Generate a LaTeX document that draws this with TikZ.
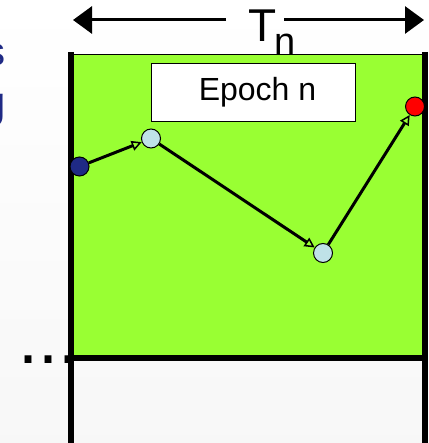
\documentclass[tikz,border=0pt]{standalone}
\usepackage{fontspec}
\setmainfont{Liberation Sans}
\usepackage{tikz}
\usetikzlibrary{arrows.meta}

\definecolor{epochgreen}{HTML}{99FF33}
\definecolor{navyblue}{HTML}{1F2A85}
\definecolor{paleblue}{HTML}{BFE2E8}

\tikzset{
  dotnode/.style={circle, draw=black, line width=1pt, minimum size=19pt, inner sep=0pt},
  move/.style={line width=3pt, -{Triangle[open, length=10pt, width=10pt, line width=1.5pt]}},
  span/.style={line width=3pt, -{Triangle[length=19pt, width=27pt]}},
}

\begin{document}
\begin{tikzpicture}[x=1pt, y=-1pt, line width=1pt]
    \useasboundingbox (0,0) rectangle (428,443);
    \shade[top color=white, bottom color=black!3] (0,0) rectangle (428,443);

    % words cut off at the left edge
    \node[navyblue, anchor=base east, inner sep=0pt, font=\fontsize{40}{40}\selectfont] (cuts) at (6,66) {s};
    \node[navyblue, anchor=base east, inner sep=0pt, font=\fontsize{44}{44}\selectfont] (cutg) at (6,118) {g};

    % the epoch
    \fill[epochgreen] (70,55) rectangle (425,358);
    \draw (70,55) -- (425,55);
    \draw[line width=6pt] (70.5,52) -- (70.5,443);
    \draw[line width=6pt] (425,52) -- (425,443);
    \draw[line width=6pt] (67.5,358) -- (428,358);

    \node[anchor=base west, inner sep=0pt, font=\fontsize{72}{72}\selectfont] (dots) at (18,363) {...};

    % length of the epoch
    \node[anchor=base west, inner sep=0pt, font=\fontsize{46}{46}\selectfont] (T) at (248,42) {T};
    \node[anchor=base west, inner sep=0pt, font=\fontsize{38}{38}\selectfont] (n) at (274,55) {n};
    \coordinate (left) at (73,20);
    \coordinate (right) at (424,20);
    \coordinate (gapl) at (226,20);
    \coordinate (gapr) at (284,20);
    \draw[span] (gapl) -- (left);
    \draw[span] (gapr) -- (right);

    \node[draw, fill=white, anchor=north west, minimum width=204pt, minimum height=58pt,
          font=\fontsize{32}{32}\selectfont] (epoch) at (151,63) {\hspace*{8pt}Epoch n};

    % walk through the epoch
    \node[dotnode, fill=navyblue] (start) at (79.5,166.5) {};
    \node[dotnode, fill=paleblue] (mid) at (151,138.5) {};
    \node[dotnode, fill=paleblue] (low) at (323,253) {};
    \node[dotnode, fill=red] (final) at (415,106.5) {};

    \draw[move] (start) -- (mid);
    \draw[move] (mid) -- (low);
    \draw[move] (low) -- (final);
\end{tikzpicture}
\end{document}
